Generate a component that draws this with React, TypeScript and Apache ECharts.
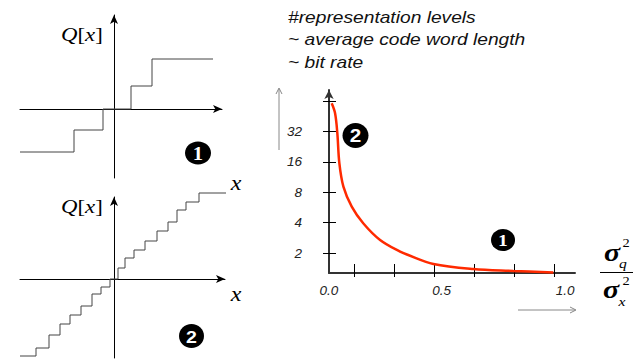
import React, { useEffect, useRef } from "react";
import * as echarts from "echarts";

// Quantizer 1 (coarse): decision points and representation levels
const coarseX = [-9.4, -4.0, -1.1, 1.7, 3.8, 9.9];
const coarseQ = [-4.3, -2.1, 0, 2.3, 5.0, 5.0];
// Quantizer 2 (fine)
const fineX = [-9.4, -7.8, -6.5, -5.4, -4.4, -3.3, -2.2, -1.3, -0.4, 0.4, 1.1, 2.0, 3.1, 4.3, 5.4, 6.3, 7.2, 8.5, 11.4];
const fineQ = [-7.7, -6.9, -5.6, -4.5, -3.6, -2.7, -1.5, -0.8, 0, 1.1, 2.1, 2.9, 3.8, 4.8, 5.7, 6.9, 7.7, 8.6, 8.6];
// Rate curve: distortion ratio vs number of representation levels
const errorRatio = [0.012, 0.027, 0.037, 0.046, 0.064, 0.101, 0.152, 0.227, 0.316, 0.352, 0.464, 0.641, 0.819, 0.997];
const reprLevels = [60.7, 48.3, 30.7, 15.5, 9.07, 5.75, 3.94, 2.69, 2.06, 1.91, 1.56, 1.39, 1.33, 1.28];
const levelTicks = [2, 4, 8, 16, 32, 64];
const levelLabels = [2, 4, 8, 16, 32];
const ratioTicks = [0.111, 0.289, 0.467, 0.644, 0.822, 1.0];
const ratioLabels = [0, 0.5, 1.0];
const titleLines = ["#representation levels", "~ average code word length", "~ bit rate"];

const SANS = '"Liberation Sans", Arial, sans-serif';
const SERIF = '"Liberation Serif", "Times New Roman", serif';

export default function App() {
  const ref = useRef<HTMLDivElement>(null);
  useEffect(() => {
    document.body.style.margin = "0";
    if (!ref.current) return;
    const chart = echarts.init(ref.current, undefined, { renderer: "svg" });

    const stairAxisLine = {
      onZero: true,
      lineStyle: { color: "#000", width: 1 },
      symbol: ["none", "arrow"],
      symbolSize: [6, 9],
    };
    const hidden = {
      axisTick: { show: false },
      axisLabel: { show: false },
      splitLine: { show: false },
    };
    const labelStyle = {
      fontStyle: "italic",
      fontSize: 13.5,
      fontFamily: SANS,
      color: "#222",
    };

    const titleGraphics = titleLines.map((t, i) => ({
      type: "text",
      x: 288,
      y: [18, 40, 63][i],
      scaleX: 1.2,
      style: {
        text: t,
        x: 0,
        y: 0,
        font: `italic 16px ${SANS}`,
        fill: "#111",
        textAlign: "left",
        textVerticalAlign: "middle",
      },
    }));

    const qLabel = (y: number) => ({
      type: "text",
      x: 61,
      y,
      scaleX: 1.2,
      style: {
        text: "{i|Q}{n|[}{i|x}{n|]}",
        x: 0,
        y: 0,
        fill: "#000",
        textAlign: "left",
        textVerticalAlign: "middle",
        rich: {
          i: { fontStyle: "italic", fontSize: 19, fontFamily: SERIF, fill: "#000" },
          n: { fontSize: 19, fontFamily: SERIF, fill: "#000" },
        },
      },
    });

    const simpleText = (
      text: string,
      x: number,
      y: number,
      font: string,
      fill = "#000",
      scaleX = 1.2
    ) => ({
      type: "text",
      x,
      y,
      scaleX,
      style: { text, x: 0, y: 0, font, fill, textAlign: "center", textVerticalAlign: "middle" },
    });

    const marker = (cx: number, cy: number, rx: number, ry: number, digit: string, font: string) => ({
      type: "group",
      children: [
        { type: "ellipse", shape: { cx, cy, rx, ry }, style: { fill: "#000" } },
        simpleText(digit, cx, cy + 0.5, font, "#fff", 1.15),
      ],
    });

    chart.setOption({
      animation: false,
      backgroundColor: "#fff",
      grid: [
        { left: 20, top: 15, width: 202, height: 163, outerBoundsMode: "none" },
        { left: 20, top: 197, width: 205, height: 161, outerBoundsMode: "none" },
        { left: 329, top: 90, width: 246, height: 183, outerBoundsMode: "none" },
      ],
      xAxis: [
        { gridIndex: 0, type: "value", min: -9.4, max: 10.8, axisLine: stairAxisLine, ...hidden },
        { gridIndex: 1, type: "value", min: -9.4, max: 11.1, axisLine: stairAxisLine, ...hidden },
        {
          gridIndex: 2,
          type: "value",
          position: "bottom",
          min: 0,
          max: 1.093,
          axisLine: { onZero: false, lineStyle: { color: "#333", width: 2 } },
          axisTick: { inside: true, length: 9, customValues: ratioTicks, lineStyle: { color: "#000", width: 1 } },
          axisLabel: {
            customValues: ratioLabels,
            margin: 10,
            ...labelStyle,
            formatter: (v: number) => (v === 1 ? "{r|1.0}" : v.toFixed(1)),
            rich: { r: { ...labelStyle, padding: [0, 0, 0, 22] } },
          },
          splitLine: { show: false },
        },
        {
          gridIndex: 2,
          type: "value",
          position: "bottom",
          min: 0,
          max: 1.093,
          axisLine: { show: false, onZero: false },
          axisTick: { inside: false, length: 4, customValues: ratioTicks, lineStyle: { color: "#000", width: 1 } },
          axisLabel: { show: false },
          splitLine: { show: false },
        },
      ],
      yAxis: [
        { gridIndex: 0, type: "value", min: -6.9, max: 9.4, axisLine: stairAxisLine, ...hidden },
        { gridIndex: 1, type: "value", min: -7.9, max: 8.2, axisLine: stairAxisLine, ...hidden },
        {
          gridIndex: 2,
          type: "log",
          logBase: 2,
          position: "left",
          min: 1.268,
          max: 82.2,
          axisLine: {
            onZero: false,
            lineStyle: { color: "#333", width: 2 },
            symbol: ["none", "arrow"],
            symbolSize: [7, 9],
          },
          axisTick: { inside: true, length: 7, customValues: levelTicks, lineStyle: { color: "#000", width: 1 } },
          axisLabel: { customValues: levelLabels, margin: 27, ...labelStyle },
          splitLine: { show: false },
        },
        {
          gridIndex: 2,
          type: "log",
          logBase: 2,
          position: "left",
          min: 1.268,
          max: 82.2,
          axisLine: { show: false, onZero: false },
          axisTick: { inside: false, length: 6, customValues: levelTicks, lineStyle: { color: "#000", width: 1 } },
          axisLabel: { show: false },
          splitLine: { show: false },
        },
      ],
      series: [
        {
          type: "line",
          xAxisIndex: 0,
          yAxisIndex: 0,
          data: coarseX.map((x, i) => [x, coarseQ[i]]),
          step: "end",
          symbol: "none",
          clip: false,
          lineStyle: { color: "#444", width: 1 },
        },
        {
          type: "line",
          xAxisIndex: 1,
          yAxisIndex: 1,
          data: fineX.map((x, i) => [x, fineQ[i]]),
          step: "end",
          symbol: "none",
          clip: false,
          lineStyle: { color: "#444", width: 1 },
        },
        {
          type: "line",
          xAxisIndex: 2,
          yAxisIndex: 2,
          data: errorRatio.map((x, i) => [x, reprLevels[i]]),
          smooth: 0.35,
          symbol: "none",
          clip: false,
          lineStyle: { color: "#ff2a00", width: 2.5 },
        },
      ],
      graphic: [
        ...titleGraphics,
        qLabel(34.5),
        qLabel(206.5),
        simpleText("x", 236, 183, `italic 20px ${SERIF}`),
        simpleText("x", 236, 294, `italic 20px ${SERIF}`),
        marker(198, 153, 13, 11.5, "1", `bold 18px ${SERIF}`),
        marker(191.5, 336, 12.5, 12, "2", `bold 17px ${SANS}`),
        marker(355.5, 135.5, 13, 12.5, "2", `bold 18px ${SANS}`),
        marker(503, 240, 12, 11, "1", `bold 17px ${SERIF}`),
        // grey direction arrows
        { type: "line", shape: { x1: 279, y1: 150, x2: 279, y2: 89 }, style: { stroke: "#888", lineWidth: 1 } },
        { type: "polyline", shape: { points: [[276, 94], [279, 88], [282, 94]] }, style: { stroke: "#888", lineWidth: 1, fill: "none" } },
        { type: "line", shape: { x1: 518, y1: 310, x2: 575, y2: 310 }, style: { stroke: "#888", lineWidth: 1 } },
        { type: "polyline", shape: { points: [[570, 307], [576, 310], [570, 313]] }, style: { stroke: "#888", lineWidth: 1, fill: "none" } },
        // fraction sigma_q^2 / sigma_x^2
        simpleText("σ", 612, 252, `italic bold 25px ${SERIF}`),
        simpleText("2", 626, 243, `12px ${SERIF}`),
        simpleText("q", 623, 263.5, `italic 13px ${SERIF}`),
        { type: "line", shape: { x1: 600, y1: 272.5, x2: 633, y2: 272.5 }, style: { stroke: "#000", lineWidth: 1 } },
        simpleText("σ", 611, 289, `italic bold 25px ${SERIF}`),
        simpleText("2", 626, 281, `12px ${SERIF}`),
        simpleText("x", 622, 301, `italic 13px ${SERIF}`),
      ],
    });
    return () => chart.dispose();
  }, []);
  return <div ref={ref} style={{ width: 633, height: 359 }} />;
}
